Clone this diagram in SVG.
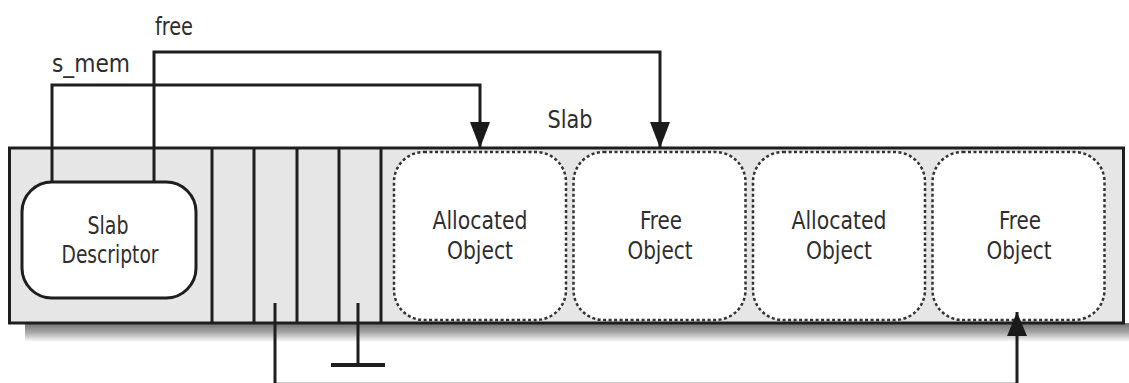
<svg xmlns="http://www.w3.org/2000/svg" width="1129" height="383" viewBox="0 0 1129 383">
<defs>
<linearGradient id="shadow" x1="0" y1="0" x2="0" y2="1">
<stop offset="0" stop-color="#707070"/>
<stop offset="0.5" stop-color="#a8a8a8"/>
<stop offset="1" stop-color="#ffffff"/>
</linearGradient>
<marker id="arrow" viewBox="0 0 20 26" refX="10" refY="26" markerWidth="20" markerHeight="26" markerUnits="userSpaceOnUse" orient="0">
<path d="M0 0 L20 0 L10 26 Z" fill="#1a1a1a"/>
</marker>
<marker id="arrowUp" viewBox="0 0 20 24" refX="10" refY="0" markerWidth="20" markerHeight="24" markerUnits="userSpaceOnUse" orient="0">
<path d="M10 0 L20 24 L0 24 Z" fill="#1a1a1a"/>
</marker>
</defs>
<style>
.lbl{font-family:"DejaVu Sans Condensed","DejaVu Sans","Liberation Sans",sans-serif;fill:#2e2e2e;text-anchor:middle}
.big{font-size:25px}
.small{font-size:24px}
.line{fill:none;stroke:#1e1e1e;stroke-width:3}
.obj{fill:#ffffff;stroke:#333;stroke-width:2.5;stroke-dasharray:3 2.5}
.div{stroke:#1e1e1e;stroke-width:3}
</style>
<rect x="25" y="323" width="1104" height="19" fill="url(#shadow)"/>
<g id="slab">
<rect x="9.5" y="148" width="1114" height="175" fill="#e6e6e6" stroke="#1e1e1e" stroke-width="3"/>
<text class="lbl big" x="570" y="128" textLength="45" lengthAdjust="spacingAndGlyphs">Slab</text>
</g>
<g id="dividers">
<line class="div" x1="212" y1="148" x2="212" y2="323"/>
<line class="div" x1="254" y1="148" x2="254" y2="323"/>
<line class="div" x1="297" y1="148" x2="297" y2="323"/>
<line class="div" x1="339" y1="148" x2="339" y2="323"/>
<line class="div" x1="381" y1="148" x2="381" y2="323"/>
</g>
<g id="descriptor">
<rect x="22" y="182" width="174" height="116" rx="30" ry="30" fill="#ffffff" stroke="#1e1e1e" stroke-width="3"/>
<text class="lbl big" x="108" y="234" textLength="41" lengthAdjust="spacingAndGlyphs">Slab</text>
<text class="lbl big" x="110" y="263" textLength="97" lengthAdjust="spacingAndGlyphs">Descriptor</text>
</g>
<g id="obj1">
<rect class="obj" x="394" y="152" width="172" height="168" rx="30" ry="30"/>
<text class="lbl big" x="480" y="229" textLength="95" lengthAdjust="spacingAndGlyphs">Allocated</text>
<text class="lbl big" x="480" y="259" textLength="66" lengthAdjust="spacingAndGlyphs">Object</text>
</g>
<g id="obj2">
<rect class="obj" x="573.5" y="152" width="172" height="168" rx="30" ry="30"/>
<text class="lbl big" x="661" y="229" textLength="42" lengthAdjust="spacingAndGlyphs">Free</text>
<text class="lbl big" x="660" y="259" textLength="65" lengthAdjust="spacingAndGlyphs">Object</text>
</g>
<g id="obj3">
<rect class="obj" x="753" y="152" width="172" height="168" rx="30" ry="30"/>
<text class="lbl big" x="839" y="229" textLength="95" lengthAdjust="spacingAndGlyphs">Allocated</text>
<text class="lbl big" x="839" y="259" textLength="66" lengthAdjust="spacingAndGlyphs">Object</text>
</g>
<g id="obj4">
<rect class="obj" x="932.5" y="152" width="172" height="168" rx="30" ry="30"/>
<text class="lbl big" x="1020" y="229" textLength="42" lengthAdjust="spacingAndGlyphs">Free</text>
<text class="lbl big" x="1019" y="259" textLength="65" lengthAdjust="spacingAndGlyphs">Object</text>
</g>
<g id="connectors">
<path class="line" d="M52 182 V85 H480 V148" marker-end="url(#arrow)"/>
<path class="line" d="M154 182 V52 H660 V148" marker-end="url(#arrow)"/>
<text class="lbl small" x="91" y="72" textLength="78" lengthAdjust="spacingAndGlyphs">s_mem</text>
<text class="lbl small" x="174" y="35" textLength="38" lengthAdjust="spacingAndGlyphs">free</text>
<path class="line" d="M275 303 V384.3 H1017 V312" marker-end="url(#arrowUp)"/>
<path class="line" d="M358 303 V365"/>
<line x1="331" y1="365" x2="385" y2="365" stroke="#1e1e1e" stroke-width="4"/>
</g>
</svg>
